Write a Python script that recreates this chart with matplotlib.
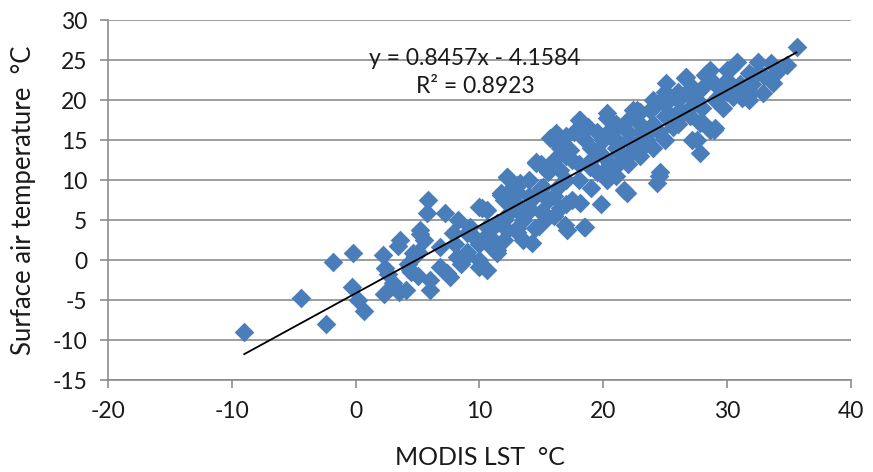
import matplotlib
matplotlib.use("Agg")
import matplotlib.pyplot as plt
import numpy as np

plt.rcParams['font.family'] = ['Lato', 'DejaVu Sans']
plt.rcParams['axes.unicode_minus'] = False

# MODIS LST (x) and surface air temperature (y)
lst = [
    -9.0, -4.4, -2.4, -1.8, -0.2, -0.3, 0.2, 0.7, 2.2, 2.4, 2.6, 2.3, 3.0, 3.5, 3.4, 3.6,
    4.5, 4.8, 5.0, 5.2, 5.5, 5.0, 4.2,
    5.85, 5.8, 7.2, 5.2, 3.0, 4.4, 6.0, 7.6, 6.0, 10.0, 9.0, 10.0, 11.4, 12.2, 13.3, 11.7,
    12.7, 7.9, 6.8, 8.2, 10.6, 11.1, 4.6, 6.8, 4.1, 8.3, 10.2, 9.2, 12.2, 11.8, 13.0, 14.6,
    15.7, 14.2, 17.1, 18.5, 10.6, 7.4, 11.4,
    18.1, 20.3, 15.9, 17.6, 14.6, 12.2, 11.7, 13.3, 16.3, 18.9, 21.3, 21.9, 18.1, 18.4, 16.9,
    15.5, 14.1, 10.6, 20.8, 19.5, 17.3, 16.5, 20.3, 21.1, 15.1, 12.7, 11.4,
    25.1, 26.7, 28.6, 25.0, 27.6, 29.3, 27.8, 28.6, 27.8, 27.2, 24.6, 22.4, 20.3, 20.5, 25.6,
    23.2, 21.3, 26.4, 24.0,
    35.6, 34.8, 33.7, 32.5, 30.8, 30.4, 33.5, 31.9, 31.2, 29.7, 28.2, 26.6, 28.0, 29.0, 27.6,
    24.3, 21.7, 22.7, 18.0, 16.2, 18.8, 21.1, 23.8, 25.9, 27.2, 29.7, 31.8, 32.5, 30.0, 28.4,
    28.9, 30.5, 31.8, 31.3, 32.9,
    14.5, 15.0, 16.0, 17.0, 13.0, 14.0, 15.5, 17.0, 18.0, 19.0, 20.0, 19.0, 21.0, 22.0, 23.0,
    23.0, 24.0, 25.0, 26.0, 26.0, 27.0, 22.0, 24.0, 20.0,
    20.5, 21.0, 21.5, 22.0, 22.5, 23.0, 23.5, 24.0, 24.5, 25.0, 25.5, 25.0, 22.0, 23.0, 21.0,
    19.5, 19.0, 18.0, 17.5, 16.5, 17.0, 18.5, 19.5, 20.0, 21.0, 22.0, 23.0, 24.0, 25.0, 26.0,
    27.0, 28.0, 29.0, 30.0, 31.0, 29.0, 28.0, 27.0, 26.0, 30.0, 32.0, 33.0, 34.0,
    8.0, 9.0, 9.5, 10.0, 10.5, 11.0, 12.0, 12.5, 13.0, 8.5, 9.0, 10.0, 11.0, 12.0, 13.0,
    13.5, 14.0, 14.5, 15.0, 15.5, 16.0, 16.5, 12.0, 13.0, 14.0, 15.0, 16.0, 17.0, 13.5, 14.8,
    17.5, 19.8, 20.6, 24.5,
]
air = [
    -9.0, -4.75, -8.0, -0.25, 0.9, -3.4, -5.0, -6.4, 0.6, -1.0, -1.8, -4.3, -3.3, -4.0, 1.8, 2.5,
    -1.5, 0.5, -2.0, 3.3, 2.5, 1.0, -0.5,
    7.5, 5.9, 5.9, 3.75, -2.9, -1.25, -2.5, -2.1, -3.75, 6.6, 3.4, -0.9, 1.25, 3.75, 5.9, 8.4,
    9.1, 3.4, 1.6, 0.4, 4.1, 2.5, 0.9, -0.9, -3.75, 5.0, 6.5, 4.1, 10.4, 8.1, 9.4, 12.3,
    15.2, 2.1, 3.75, 4.1, -1.25, -1.6, 0.9,
    17.5, 17.75, 15.2, 16.0, 12.1, 10.4, 8.1, 9.6, 9.1, 11.6, 12.1, 8.4, 7.1, 4.1, 4.4,
    5.4, 6.25, 6.25, 16.25, 13.75, 13.75, 11.25, 10.0, 14.6, 9.1, 7.1, 4.6,
    22.1, 22.9, 23.75, 20.4, 20.0, 20.4, 17.1, 16.25, 13.4, 15.0, 11.0, 18.75, 18.4, 16.25, 16.6,
    14.1, 13.4, 18.4, 16.6,
    26.6, 24.4, 22.1, 24.75, 24.75, 24.1, 24.6, 20.9, 20.25, 19.0, 23.1, 22.75, 17.25, 16.5, 15.0,
    9.6, 8.75, 18.75, 17.5, 15.9, 16.6, 16.6, 18.75, 20.4, 21.6, 21.6, 23.4, 23.5, 23.75, 23.4,
    16.25, 20.4, 20.0, 21.5, 20.9,
    4.0, 6.0, 8.0, 7.0, 4.0, 8.0, 11.0, 10.0, 12.0, 9.0, 11.0, 14.0, 15.0, 13.0, 15.0,
    17.0, 19.0, 18.0, 17.0, 20.0, 19.0, 16.0, 14.0, 13.0,
    12.0, 14.0, 13.0, 15.0, 14.0, 16.0, 15.0, 17.0, 16.0, 15.0, 18.0, 19.5, 12.0, 13.0, 10.5,
    11.0, 12.5, 10.0, 12.5, 14.0, 15.5, 15.0, 16.0, 15.0, 17.0, 17.5, 18.5, 20.0, 21.0, 21.0,
    20.5, 21.5, 22.0, 22.5, 22.0, 20.0, 19.0, 18.0, 18.5, 21.0, 22.0, 23.0, 23.5,
    2.0, 1.0, 3.0, 2.0, 3.0, 4.0, 5.0, 6.0, 7.0, -0.5, 0.5, 0.0, 1.5, 2.5, 3.5,
    5.0, 6.5, 8.0, 9.0, 7.5, 5.5, 6.5, 7.5, 8.5, 10.0, 12.0, 12.5, 13.0, 2.5, 4.2,
    7.5, 7.0, 11.5, 10.5,
]

slope = 0.8457
intercept = -4.1584
equation_text = "y = 0.8457x - 4.1584"
r2_text = "R² = 0.8923"

x_ticks = [-20, -10, 0, 10, 20, 30, 40]
y_ticks = [-15, -10, -5, 0, 5, 10, 15, 20, 25, 30]

fig = plt.figure(figsize=(8.73, 4.72), dpi=100)
ax = fig.add_axes([0.1237, 0.1949, 0.8511, 0.7627])

grid_c = '#8C8C8C'
ax.set_xlim(-20, 40)
ax.set_ylim(-15, 30)
ax.set_xticks(x_ticks)
ax.set_yticks(y_ticks)
ax.yaxis.grid(True, color=grid_c, linewidth=1.2)
ax.set_axisbelow(True)
for s in ['top', 'right']:
    ax.spines[s].set_visible(False)
for s in ['left', 'bottom']:
    ax.spines[s].set_color(grid_c)
    ax.spines[s].set_linewidth(1.2)
ax.tick_params(axis='both', colors=grid_c, width=1.2, length=6, labelsize=16.5,
               labelcolor='#1a1a1a')
ax.tick_params(axis='y', pad=9)
ax.tick_params(axis='x', pad=9)

ax.scatter(lst, air, marker='D', s=100, color='#4A7EBB', linewidths=0, zorder=3)

xs = np.array([min(lst), max(lst)])
ax.plot(xs, slope * xs + intercept, color='black', linewidth=1.3, zorder=4)

ax.text(0.494, 0.894, equation_text, transform=ax.transAxes, ha='center', va='center',
        fontsize=16.5, color='#1a1a1a', zorder=5)
ax.text(0.494, 0.814, r2_text, transform=ax.transAxes, ha='center', va='center',
        fontsize=16.5, color='#1a1a1a', zorder=5)

ax.set_xlabel("MODIS LST  °C", fontsize=18, color='#1a1a1a')
ax.set_ylabel("Surface air temperature  °C", fontsize=18.5, color='#1a1a1a')
ax.xaxis.set_label_coords(0.5, -0.183)
ax.yaxis.set_label_coords(-0.097, 0.5)

fig.savefig("out.png", dpi=100)
